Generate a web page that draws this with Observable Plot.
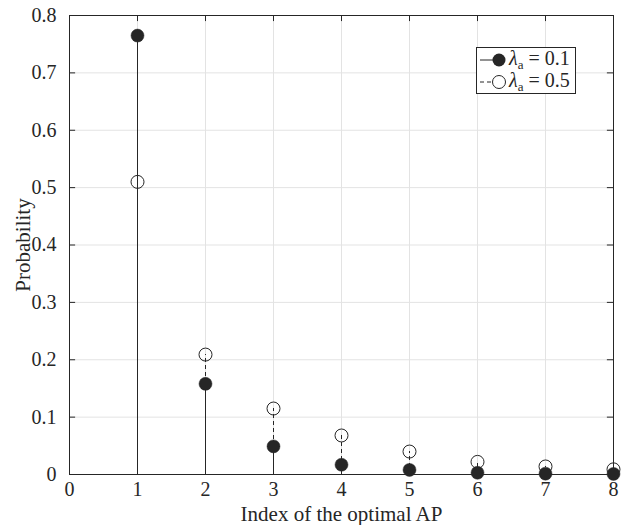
<!DOCTYPE html>
<html><head><meta charset="utf-8">
<script src="https://cdn.jsdelivr.net/npm/d3@7"></script>
<script src="https://cdn.jsdelivr.net/npm/@observablehq/plot@0.6"></script>
<style>
body{margin:0;background:#fff;}
#wrap{position:relative;width:622px;height:525px;font-family:"Liberation Serif","Times New Roman","DejaVu Serif",serif;}
#chart svg text{font-family:"Liberation Serif","Times New Roman","DejaVu Serif",serif;font-size:20px;}
#chart svg g[aria-label="x-axis label"] text, #chart svg g[aria-label="y-axis label"] text{font-size:21px;}
#legend{position:absolute;left:476px;top:47px;width:100px;height:47px;border:1px solid #262626;background:#fff;box-sizing:border-box;font-size:20px;color:#262626;}
#legend .row{position:absolute;left:0;height:22px;display:flex;align-items:center;white-space:nowrap;}
#legend i{font-style:italic;}
#legend sub{font-size:13px;vertical-align:-4px;font-style:normal;}
</style></head>
<body><div id="wrap"><div id="chart"></div>
<div id="legend">
 <div class="row" style="top:1px"><svg width="32" height="20"><line x1="3" y1="10" x2="24" y2="10" stroke="#262626" stroke-width="1"/><circle cx="22" cy="10" r="6.5" fill="#262626"/></svg><span><i>λ</i><sub>a</sub>&nbsp;=&nbsp;0.1</span></div>
 <div class="row" style="top:23px"><svg width="32" height="20"><line x1="3" y1="10" x2="16" y2="10" stroke="#262626" stroke-width="1" stroke-dasharray="4,3"/><circle cx="22" cy="10" r="6.5" fill="none" stroke="#262626" stroke-width="1"/></svg><span><i>λ</i><sub>a</sub>&nbsp;=&nbsp;0.5</span></div>
</div></div>
<script>
const apIndex = [1, 2, 3, 4, 5, 6, 7, 8];
const probLambda01 = [0.765, 0.158, 0.049, 0.017, 0.008, 0.003, 0.0015, 0.001];
const probLambda05 = [0.510, 0.209, 0.115, 0.068, 0.040, 0.022, 0.014, 0.009];
const xTicks = [0, 1, 2, 3, 4, 5, 6, 7, 8];
const yTicks = [0, 0.1, 0.2, 0.3, 0.4, 0.5, 0.6, 0.7, 0.8];

const s1 = apIndex.map((x, i) => ({x, y: probLambda01[i]}));
const s2 = apIndex.map((x, i) => ({x, y: probLambda05[i]}));
const ink = "#262626";
const tlx = 0.09, tly = 0.0106;

const chart = Plot.plot({
  width: 622, height: 525,
  marginLeft: 69, marginRight: 9, marginTop: 15, marginBottom: 51,
  style: {fontSize: "20px", color: ink, background: "#fff"},
  x: {domain: [0, 8]},
  y: {domain: [0, 0.8]},
  marks: [
    Plot.gridX(xTicks, {stroke: "#e3e3e3", strokeOpacity: 1}),
    Plot.gridY(yTicks, {stroke: "#e3e3e3", strokeOpacity: 1}),
    Plot.ruleX(s1, {x: "x", y1: 0, y2: "y", stroke: ink, strokeWidth: 1}),
    Plot.dot(s1, {x: "x", y: "y", r: 6.5, fill: ink, stroke: ink, strokeWidth: 0.5}),
    Plot.ruleX(s2, {x: "x", y1: 0, y2: "y", stroke: ink, strokeWidth: 1, strokeDasharray: "4,3"}),
    Plot.dot(s2, {x: "x", y: "y", r: 6.5, fill: "none", stroke: ink, strokeWidth: 1}),
    Plot.ruleY(yTicks, {y: d => d, x1: 0, x2: tlx, stroke: ink}),
    Plot.ruleY(yTicks, {y: d => d, x1: 8 - tlx, x2: 8, stroke: ink}),
    Plot.ruleX(xTicks, {x: d => d, y1: 0, y2: tly, stroke: ink}),
    Plot.ruleX(xTicks, {x: d => d, y1: 0.8 - tly, y2: 0.8, stroke: ink}),
    Plot.frame({stroke: ink, strokeWidth: 1}),
    Plot.axisX(xTicks, {tickSize: 0, tickPadding: 7, label: "Index of the optimal AP", labelAnchor: "center", labelOffset: 46, labelArrow: "none"}),
    Plot.axisY(yTicks, {tickSize: 0, tickPadding: 13, tickFormat: d => d === 0 ? "0" : d3.format(".1f")(d), label: "Probability", labelAnchor: "center", labelOffset: 54, labelArrow: "none"})
  ]
});
document.getElementById("chart").appendChild(chart);
</script></body></html>
